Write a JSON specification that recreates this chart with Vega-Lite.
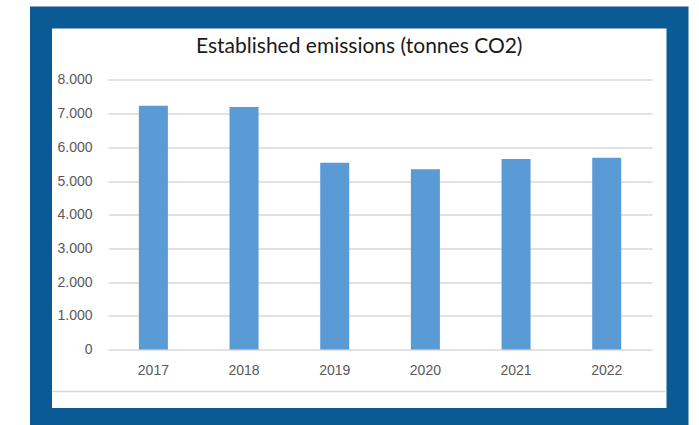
{
  "$schema": "https://vega.github.io/schema/vega-lite/v6.json",
  "width": 636.5,
  "height": 401.5,
  "autosize": {"type": "none"},
  "padding": {"left": 41, "top": 17.5, "right": 21.5, "bottom": 6},
  "background": "white",
  "view": {"stroke": "#0a5b95", "strokeWidth": 22, "fill": "white"},
  "title": {
    "text": "Established emissions (tonnes CO2)",
    "frame": "group",
    "anchor": "middle",
    "orient": "top",
    "baseline": "alphabetic",
    "offset": -56,
    "font": "Lato",
    "fontSize": 21,
    "fontWeight": "normal",
    "color": "#1a1a1a"
  },
  "data": {
    "values": [
      {"year": "2017", "emissions": 7235},
      {"year": "2018", "emissions": 7198},
      {"year": "2019", "emissions": 5543},
      {"year": "2020", "emissions": 5347},
      {"year": "2021", "emissions": 5653},
      {"year": "2022", "emissions": 5691}
    ]
  },
  "mark": {"type": "bar", "color": "#5b9bd5"},
  "encoding": {
    "x": {
      "field": "year",
      "type": "nominal",
      "sort": null,
      "scale": {"paddingInner": 0.68, "paddingOuter": 0.85, "align": 0.635},
      "axis": {
        "title": null,
        "orient": "bottom",
        "offset": -28,
        "labelAngle": 0,
        "labelFont": "Liberation Sans",
        "labelFontSize": 14,
        "labelColor": "#595959",
        "labelBaseline": "middle",
        "labelPadding": -21,
        "ticks": false,
        "tickSize": 0,
        "domain": true,
        "domainColor": "#d9d9d9",
        "domainWidth": 1.5,
        "domainDash": [0, 11, 613, 2000],
        "grid": false
      }
    },
    "y": {
      "field": "emissions",
      "type": "quantitative",
      "scale": {"domain": [-2062, 9852], "nice": false, "zero": false},
      "axis": {
        "title": null,
        "orient": "left",
        "offset": -59,
        "values": [0, 1000, 2000, 3000, 4000, 5000, 6000, 7000, 8000],
        "labelExpr": "replace(format(datum.value, ','), ',', '.')",
        "labelFont": "Liberation Sans",
        "labelFontSize": 14,
        "labelColor": "#595959",
        "labelPadding": 8,
        "ticks": false,
        "tickSize": 0,
        "domain": false,
        "grid": true,
        "gridColor": "#d9d9d9",
        "gridWidth": 1.5,
        "gridDash": [0, 67, 544, 2000]
      }
    },
    "y2": {"datum": 0}
  }
}
